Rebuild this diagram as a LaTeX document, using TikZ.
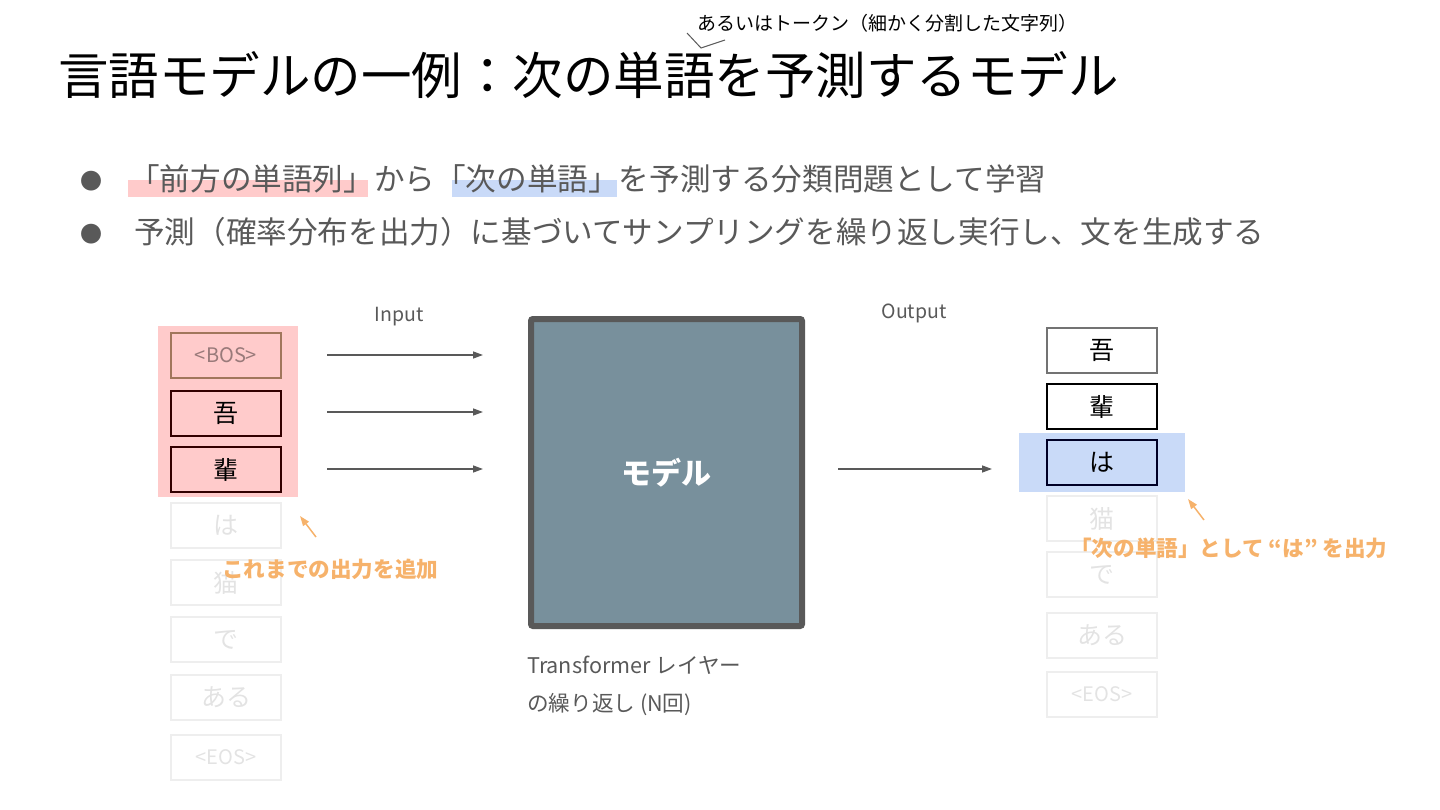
\documentclass[tikz,border=0pt]{standalone}
\usepackage{fontspec}
\setmainfont{Noto Sans CJK JP}
\usetikzlibrary{arrows.meta,positioning}
\definecolor{textgray}{HTML}{595959}
\definecolor{pinkbg}{HTML}{FFCBCB}
\definecolor{bluebg}{HTML}{C9DAF8}
\definecolor{modelfill}{HTML}{78909C}
\definecolor{noteorange}{HTML}{F6B26B}
\definecolor{fadeline}{HTML}{EEEEEE}
\definecolor{fadetext}{HTML}{E3E3E3}
\newcommand{\fsz}[1]{\fontsize{#1}{#1}\selectfont}
\tikzset{
    tok/.style = {draw, line width = 1.6pt, minimum width = 110pt, minimum height = 45pt,
        inner sep = 0pt, font = \fsz{25}},
    tokfade/.style = {tok, draw = fadeline, text = fadetext},
    feed/.style = {-{Triangle[length = 10pt, width = 7pt]}, line width = 1.3pt, draw = textgray},
    note/.style = {-{Triangle[length = 10pt, width = 7pt]}, line width = 1.5pt, draw = noteorange},
    notetext/.style = {text = noteorange, font = \fsz{21.6}\bfseries, anchor = west, inner sep = 0pt}
}
\begin{document}
\begin{tikzpicture}[x = 1pt, y = -1pt]
    \useasboundingbox (0,0) rectangle (1440,810);
    % title and bullets
    \fill[pinkbg] (128,180) rectangle (368,197);
    \fill[bluebg] (452,180) rectangle (617,197);
    \node[anchor = west, inner sep = 0pt, font = \fsz{50.5}] (title) at (58,75)
        {言語モデルの一例：次の単語を予測するモデル};
    \node[anchor = west, inner sep = 0pt, font = \fsz{19}] (memo) at (697,23)
        {あるいはトークン（細かく分割した文字列）};
    \draw[textgray, line width = 1pt] (687,33) -- (701,48) -- (725,40);
    \begin{scope}[every node/.append style = {anchor = west, inner sep = 0pt, text = textgray, font = \fsz{30.6}}]
        \node (dot1) at (80,181) {\fsz{22}●};
        \node (dot2) at (80,234) {\fsz{22}●};
        \node (line1) at (129,179) {「前方の単語列」から「次の単語」を予測する分類問題として学習};
        \node (line2) at (134,232) {予測（確率分布を出力）に基づいてサンプリングを繰り返し実行し、文を生成する};
    \end{scope}
    % input side
    \fill[pinkbg] (158,326) rectangle (298,497);
    \node[tok, draw = black!45!pinkbg!60!brown, text = black!40!pinkbg, font = \fsz{20}] (bos) at (226,355.5) {<BOS>};
    \node[tok, draw = black!80!red] (in1) at (226,413.5) {吾};
    \node[tok, draw = black!80!red] (in2) at (226,469.5) {輩};
    \node[tokfade] (in3) at (226,525.5) {は};
    \node[tokfade] (in4) at (226,582.5) {猫};
    \node[tokfade] (in5) at (226,639.5) {で};
    \node[tokfade] (in6) at (226,697.5) {ある};
    \node[tokfade, font = \fsz{20}] (eos) at (226,757.5) {<EOS>};
    \node[text = textgray, font = \fsz{19.5}] (input) at (399,317) {Input};
    \coordinate (s1) at (327,355);
    \coordinate (s2) at (327,412);
    \coordinate (s3) at (327,469);
    % model
    \node[draw = textgray, fill = modelfill, line width = 6pt, rounded corners = 2pt,
        minimum width = 271pt, minimum height = 307pt, text = white, font = \fsz{30}\bfseries] (model) at (666.5,472.5) {モデル};
    \draw[feed] (s1) -- ++(156,0);
    \draw[feed] (s2) -- ++(156,0);
    \draw[feed] (s3) -- ++(156,0);
    \node[anchor = north west, inner sep = 0pt, text = textgray, font = \fsz{21.6}, align = left] (layer) at (527,656)
        {Transformer レイヤー\\[16pt]の繰り返し (N回)};
    % output side
    \coordinate (o1) at (838,469);
    \coordinate (o2) at (992,469);
    \draw[feed] (o1) -- (o2);
    \node[text = textgray, font = \fsz{19.5}] (output) at (914,313) {Output};
    \fill[bluebg] (1019,433) rectangle (1185,492);
    \node[tok, draw = black!55] (out1) at (1102,350.5) {吾};
    \node[tok, draw = black] (out2) at (1102,406.5) {輩};
    \node[tok, draw = black!70!blue!50!black] (out3) at (1102,462.5) {は};
    \node[tokfade] (out4) at (1102,518.5) {猫};
    \node[tokfade] (out5) at (1102,574.5) {で};
    \node[tokfade] (out6) at (1102,635.5) {ある};
    \node[tokfade, font = \fsz{20}] (oeos) at (1102,694.5) {<EOS>};
    % notes
    \node[notetext] (addnote) at (222,569) {これまでの出力を追加};
    \coordinate (a1) at (316,537);
    \coordinate (a2) at (300,516);
    \draw[note] (a1) -- (a2);
    \node[notetext] (nextnote) at (1070,548) {「次の単語」として “は” を出力};
    \coordinate (b1) at (1204,520);
    \coordinate (b2) at (1188,499);
    \draw[note] (b1) -- (b2);
\end{tikzpicture}
\end{document}
